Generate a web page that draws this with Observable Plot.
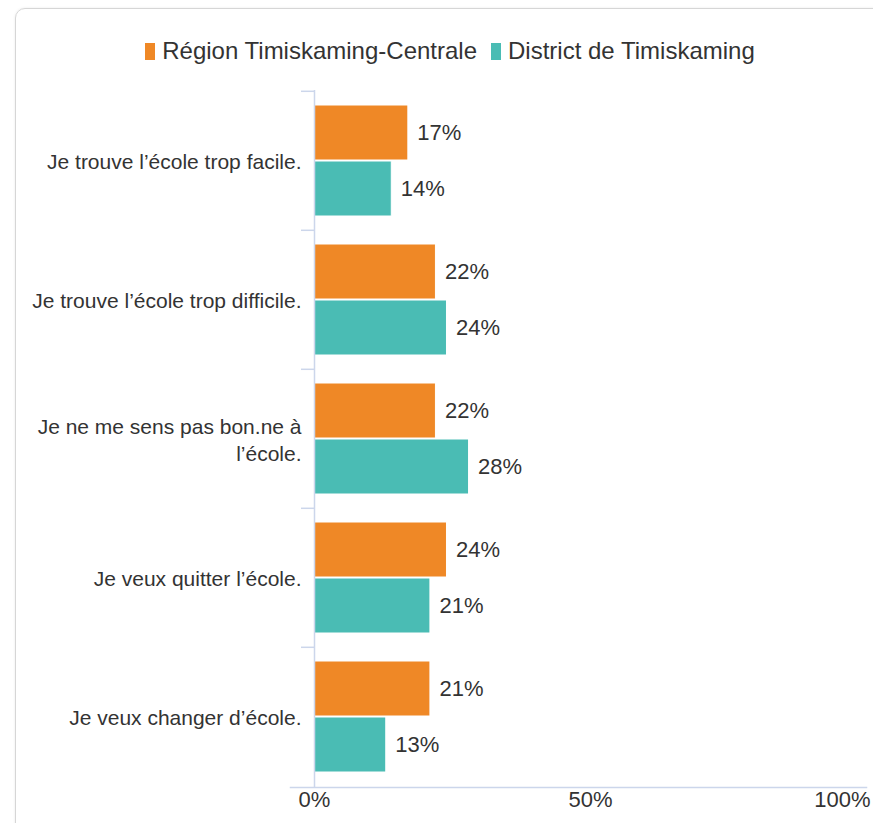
<!DOCTYPE html>
<html>
<head>
<meta charset="utf-8">
<script src="https://cdn.jsdelivr.net/npm/d3@7"></script>
<script src="https://cdn.jsdelivr.net/npm/@observablehq/plot@0.6"></script>
<style>
  html, body { margin: 0; padding: 0; background: #fff; overflow: hidden; }
  #wrap { position: relative; width: 873px; height: 823px; font-family: "Liberation Sans", Arial, Helvetica, sans-serif; }
  #frame { position: absolute; left: 15px; top: 8px; width: 900px; height: 900px; border: 1px solid #d6d6d6; border-radius: 10px; box-shadow: 0 0 3px rgba(0,0,0,0.08); }
  #chart { position: absolute; left: 0; top: 0; }
  #legend { position: absolute; left: 15px; width: 870px; top: 37px; display: flex; justify-content: center; align-items: center; font-size: 24px; color: #333; gap: 14px; }
  .item { display: flex; align-items: center; gap: 7px; }
  .sw { width: 10px; height: 17px; display: inline-block; }
</style>
</head>
<body>
<div id="wrap">
  <div id="frame"></div>
  <div id="chart"></div>
  <div id="legend"></div>
</div>
<script>
const categories = [
  "Je trouve l’école trop facile.",
  "Je trouve l’école trop difficile.",
  "Je ne me sens pas bon.ne à l’école.",
  "Je veux quitter l’école.",
  "Je veux changer d’école."
];
const categoryLabels = [
  "Je trouve l’école trop facile.",
  "Je trouve l’école trop difficile.",
  "Je ne me sens pas bon.ne à\nl’école.",
  "Je veux quitter l’école.",
  "Je veux changer d’école."
];
const seriesNames = ["Région Timiskaming-Centrale", "District de Timiskaming"];
const regionValues = [17, 22, 22, 24, 21];
const districtValues = [14, 24, 28, 21, 13];
const xTicks = [0, 50, 100];
const seriesColors = ["#EF8826", "#4ABCB4"];

const regionData = categories.map((c, i) => ({category: c, value: regionValues[i]}));
const districtData = categories.map((c, i) => ({category: c, value: districtValues[i]}));
const labelOf = new Map(categories.map((c, i) => [c, categoryLabels[i]]));

const axisColor = "#ccd6eb";
const textColor = "#333333";

const chart = Plot.plot({
  width: 873,
  height: 823,
  marginTop: 90,
  marginBottom: 36,
  marginLeft: 314,
  marginRight: 7,
  style: {fontFamily: "'Liberation Sans', Arial, Helvetica, sans-serif", color: textColor, background: "transparent", overflow: "visible"},
  x: {domain: [0, 100], axis: null},
  y: {domain: categories, padding: 0, axis: null},
  marks: [
    Plot.barX(regionData, {y: "category", x: "value", fill: seriesColors[0], stroke: "#fff", strokeWidth: 1, insetTop: 14, insetBottom: 70}),
    Plot.barX(districtData, {y: "category", x: "value", fill: seriesColors[1], stroke: "#fff", strokeWidth: 1, insetTop: 70, insetBottom: 14}),
    Plot.text(regionData, {y: "category", x: "value", text: d => d.value + "%", dy: -28, dx: 9, textAnchor: "start", fontSize: 22, fill: textColor}),
    Plot.text(districtData, {y: "category", x: "value", text: d => d.value + "%", dy: 28, dx: 9, textAnchor: "start", fontSize: 22, fill: textColor}),
    Plot.ruleX([0], {stroke: axisColor, strokeWidth: 1.5}),
    Plot.axisY({tickSize: 13, dy: -69.7, tickFormat: () => "", stroke: axisColor, strokeWidth: 1.5, label: null}),
    Plot.axisY({tickSize: 0, tickPadding: 13, tickFormat: d => labelOf.get(d), fontSize: 21, fill: textColor, lineHeight: 1.25, label: null}),
    Plot.frame({anchor: "bottom", stroke: axisColor, strokeWidth: 1.5, insetLeft: -24}),
    Plot.axisX({ticks: xTicks.slice(0, 2), tickSize: 0, tickPadding: 4, tickFormat: d => d + "%", fontSize: 22, fill: textColor, label: null}),
    Plot.axisX({ticks: xTicks.slice(2), tickSize: 0, tickPadding: 4, tickFormat: d => d + "%", fontSize: 22, fill: textColor, textAnchor: "end", dx: 4, label: null})
  ]
});
document.getElementById("chart").appendChild(chart);

const legend = document.getElementById("legend");
seriesNames.forEach((name, i) => {
  const item = document.createElement("div");
  item.className = "item";
  const sw = document.createElement("span");
  sw.className = "sw";
  sw.style.background = seriesColors[i];
  const t = document.createElement("span");
  t.textContent = name;
  item.appendChild(sw);
  item.appendChild(t);
  legend.appendChild(item);
});
</script>
</body>
</html>
